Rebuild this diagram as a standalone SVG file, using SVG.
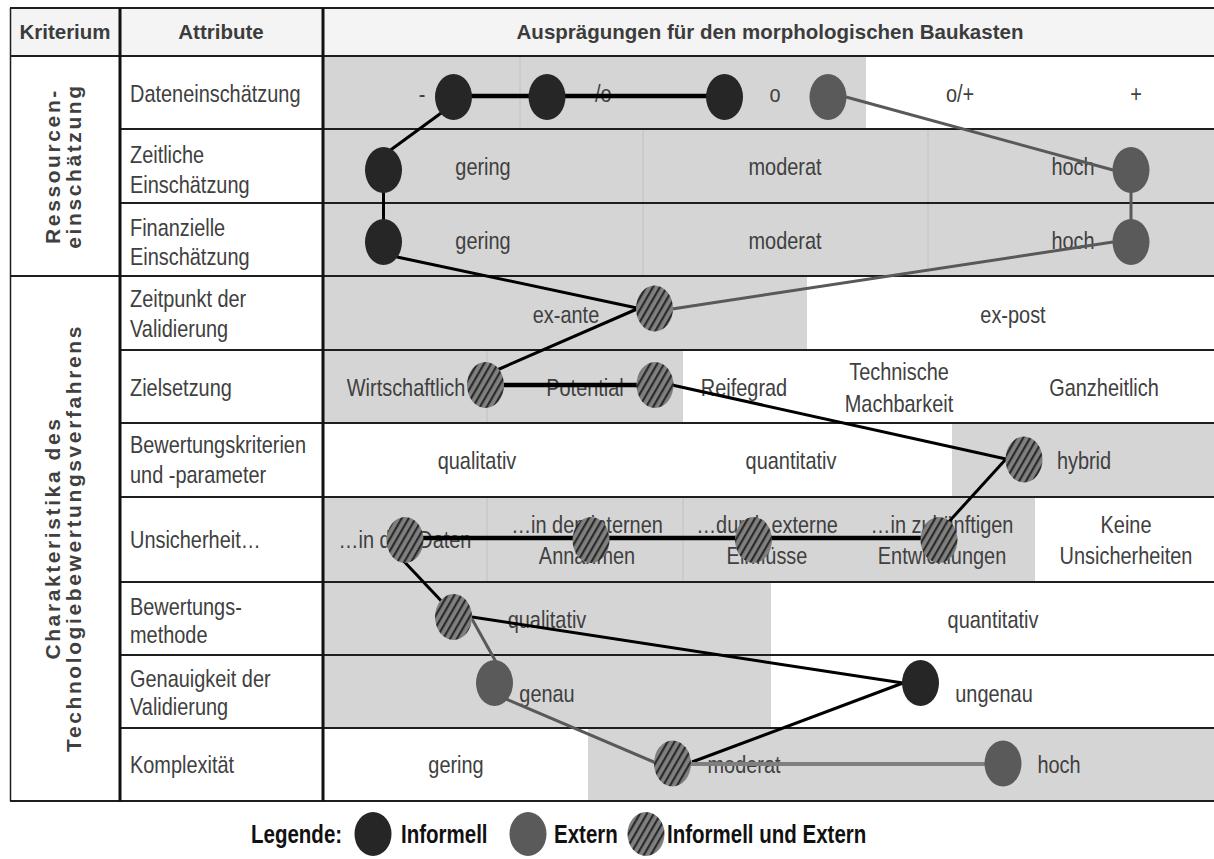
<svg xmlns="http://www.w3.org/2000/svg" width="1214" height="859" viewBox="0 0 1214 859">
<style>
.bg{fill:#ffffff}
.g{fill:#d5d5d5}
.dv{stroke:#c2c2c2;stroke-width:1}
.rl{stroke:#1e1e1e;stroke-width:2;fill:none}
.cl{stroke:#111;stroke-width:3;fill:none}
.h{font-family:"Liberation Sans",Arial,sans-serif;font-weight:bold;font-size:20.5px;fill:#3c3c3c;text-anchor:middle}
.t{font-family:"Liberation Sans",Arial,sans-serif;font-size:24px;fill:#404040;text-anchor:middle}
.a{font-family:"Liberation Sans",Arial,sans-serif;font-size:24px;fill:#404040;text-anchor:start}
.v{font-family:"Liberation Sans",Arial,sans-serif;font-weight:bold;font-size:21px;fill:#404040;text-anchor:middle;letter-spacing:2.6px}
.lg{font-family:"Liberation Sans",Arial,sans-serif;font-weight:bold;font-size:25px;fill:#111;text-anchor:start}
.inf{fill:#262626}
.ext{fill:#5a5a5a}
.both{fill:url(#hatch)}
.cb{stroke:#000;stroke-width:3;fill:none}
.cbt{stroke:#000;stroke-width:4.5;fill:none}
.cg{stroke:#595959;stroke-width:3;fill:none}
.cgl{stroke:#7f7f7f;stroke-width:4;fill:none}
</style>
<defs>
<pattern id="hatch" patternUnits="userSpaceOnUse" width="6" height="6" patternTransform="rotate(30)">
<rect width="6" height="6" fill="#808080"/>
<rect width="2.2" height="6" fill="#2b2b2b"/>
</pattern>
</defs>
<rect class="bg" x="0" y="0" width="1214" height="859"/>
<g id="table">
<rect x="10" y="8" width="1204" height="48" fill="#f4f4f4"/>
<rect class="g" x="323" y="56" width="543" height="73"/>
<rect class="g" x="323" y="129" width="891" height="74"/>
<rect class="g" x="323" y="203" width="891" height="73"/>
<rect class="g" x="323" y="276" width="484" height="74"/>
<rect class="g" x="323" y="350" width="360" height="73"/>
<rect class="g" x="952" y="423" width="262" height="74"/>
<rect class="g" x="323" y="497" width="712" height="85"/>
<rect class="g" x="323" y="582" width="448" height="73"/>
<rect class="g" x="323" y="655" width="448" height="73"/>
<rect class="g" x="588" y="728" width="626" height="73"/>
<line class="dv" x1="520" y1="57" x2="520" y2="128"/>
<line class="dv" x1="643" y1="130" x2="643" y2="275"/>
<line class="dv" x1="928" y1="130" x2="928" y2="275"/>
<line class="dv" x1="487" y1="351" x2="487" y2="422"/>
<line class="dv" x1="487" y1="498" x2="487" y2="581"/>
<line class="dv" x1="683" y1="498" x2="683" y2="581"/>
<path class="rl" d="M10 8H1214M10 56H1214M120 129H1214M120 203H1214M10 276H1214M120 350H1214M120 423H1214M120 497H1214M120 582H1214M120 655H1214M120 728H1214M10 801H1214"/>
<line x1="10.5" y1="8" x2="10.5" y2="801" stroke="#1e1e1e" stroke-width="1.5"/>
<line class="cl" x1="120" y1="8" x2="120" y2="801"/>
<line class="cl" x1="323" y1="8" x2="323" y2="801"/>
<text class="h" x="65" y="39">Kriterium</text>
<text class="h" x="221" y="39">Attribute</text>
<text class="h" x="770" y="39">Ausprägungen für den morphologischen Baukasten</text>
<text class="v" transform="translate(60,166) rotate(-90)">Ressourcen-</text>
<text class="v" transform="translate(81,166) rotate(-90)">einschätzung</text>
<text class="v" transform="translate(60,538) rotate(-90)">Charakteristika des</text>
<text class="v" transform="translate(81,538) rotate(-90)">Technologiebewertungsverfahrens</text>
<g id="attributes">
<text class="a" transform="translate(130,102) scale(.83,1)">Dateneinschätzung</text>
<text class="a" transform="translate(130,163) scale(.83,1)">Zeitliche<tspan x="0" dy="30">Einschätzung</tspan></text>
<text class="a" transform="translate(130,236) scale(.83,1)">Finanzielle<tspan x="0" dy="29">Einschätzung</tspan></text>
<text class="a" transform="translate(130,307) scale(.83,1)">Zeitpunkt der<tspan x="0" dy="30">Validierung</tspan></text>
<text class="a" transform="translate(130,396) scale(.83,1)">Zielsetzung</text>
<text class="a" transform="translate(130,453) scale(.83,1)">Bewertungskriterien<tspan x="0" dy="30">und -parameter</tspan></text>
<text class="a" transform="translate(130,548) scale(.83,1)">Unsicherheit…</text>
<text class="a" transform="translate(130,615) scale(.83,1)">Bewertungs-<tspan x="0" dy="28">methode</tspan></text>
<text class="a" transform="translate(130,687) scale(.83,1)">Genauigkeit der<tspan x="0" dy="28">Validierung</tspan></text>
<text class="a" transform="translate(130,773) scale(.83,1)">Komplexität</text>
</g>
<g id="values">
<text class="t" transform="translate(422,102) scale(.83,1)">-</text>
<text class="t" transform="translate(600,102) scale(.83,1)">-/o</text>
<text class="t" transform="translate(775,102) scale(.83,1)">o</text>
<text class="t" transform="translate(960,102) scale(.83,1)">o/+</text>
<text class="t" transform="translate(1136,102) scale(.83,1)">+</text>
<text class="t" transform="translate(483,175) scale(.83,1)">gering</text>
<text class="t" transform="translate(785,175) scale(.83,1)">moderat</text>
<text class="t" transform="translate(1073,175) scale(.83,1)">hoch</text>
<text class="t" transform="translate(483,249) scale(.83,1)">gering</text>
<text class="t" transform="translate(785,249) scale(.83,1)">moderat</text>
<text class="t" transform="translate(1073,249) scale(.83,1)">hoch</text>
<text class="t" transform="translate(566,323) scale(.83,1)">ex-ante</text>
<text class="t" transform="translate(1013,323) scale(.83,1)">ex-post</text>
<text class="t" transform="translate(406,396) scale(.83,1)">Wirtschaftlich</text>
<text class="t" transform="translate(585,396) scale(.83,1)">Potential</text>
<text class="t" transform="translate(744,396) scale(.83,1)">Reifegrad</text>
<text class="t" transform="translate(899,380) scale(.83,1)">Technische<tspan x="0" dy="32">Machbarkeit</tspan></text>
<text class="t" transform="translate(1104,396) scale(.83,1)">Ganzheitlich</text>
<text class="t" transform="translate(477,469) scale(.83,1)">qualitativ</text>
<text class="t" transform="translate(791,469) scale(.83,1)">quantitativ</text>
<text class="t" transform="translate(1084,469) scale(.83,1)">hybrid</text>
<text class="t" transform="translate(405,548) scale(.83,1)">…in den Daten</text>
<text class="t" transform="translate(587,533) scale(.83,1)">…in den internen<tspan x="0" dy="31">Annahmen</tspan></text>
<text class="t" transform="translate(767,533) scale(.83,1)">…durch externe<tspan x="0" dy="31">Einflüsse</tspan></text>
<text class="t" transform="translate(942,533) scale(.83,1)">…in zukünftigen<tspan x="0" dy="31">Entwicklungen</tspan></text>
<text class="t" transform="translate(1126,533) scale(.83,1)">Keine<tspan x="0" dy="31">Unsicherheiten</tspan></text>
<text class="t" transform="translate(547,628) scale(.83,1)">qualitativ</text>
<text class="t" transform="translate(993,628) scale(.83,1)">quantitativ</text>
<text class="t" transform="translate(547,702) scale(.83,1)">genau</text>
<text class="t" transform="translate(994,702) scale(.83,1)">ungenau</text>
<text class="t" transform="translate(456,773) scale(.83,1)">gering</text>
<text class="t" transform="translate(744,773) scale(.83,1)">moderat</text>
<text class="t" transform="translate(1059,773) scale(.83,1)">hoch</text>
</g>
</g>
<g id="connectors">
<line class="cbt" x1="453" y1="96" x2="724" y2="96"/>
<line class="cb" x1="448" y1="108" x2="381" y2="157"/>
<line class="cg" x1="846" y1="97" x2="1113" y2="170"/>
<line class="cb" x1="383.5" y1="190" x2="383.5" y2="222"/>
<line class="cg" x1="1131" y1="190" x2="1131" y2="222"/>
<line class="cb" x1="397" y1="257" x2="637" y2="308"/>
<line class="cg" x1="1113" y1="242" x2="672" y2="309"/>
<line class="cb" x1="637" y1="309" x2="497" y2="370"/>
<line class="cbt" x1="500" y1="385" x2="640" y2="385"/>
<line class="cb" x1="672" y1="385" x2="1006" y2="459"/>
<line class="cb" x1="1006" y1="459" x2="945" y2="526"/>
<line class="cbt" x1="420" y1="538" x2="925" y2="538"/>
<line class="cb" x1="398" y1="555" x2="446" y2="606"/>
<line class="cb" x1="472" y1="617" x2="903" y2="683"/>
<line class="cg" x1="472" y1="619" x2="496" y2="662"/>
<line class="cg" x1="506" y1="699" x2="656" y2="763"/>
<line class="cb" x1="692" y1="762" x2="903" y2="683"/>
<line class="cgl" x1="690" y1="764" x2="986" y2="764"/>
</g>
<g id="n-daten-minus"><ellipse class="inf" cx="453.5" cy="97" rx="18.5" ry="23"/></g>
<g id="n-daten-minuso"><ellipse class="inf" cx="547" cy="97" rx="18.5" ry="23"/></g>
<g id="n-daten-o"><ellipse class="inf" cx="724.5" cy="97" rx="18.5" ry="23"/></g>
<g id="n-daten-ext"><ellipse class="ext" cx="828" cy="97" rx="18.5" ry="23"/></g>
<g id="n-zeit-gering"><ellipse class="inf" cx="383.5" cy="170" rx="18.5" ry="23"/></g>
<g id="n-zeit-hoch"><ellipse class="ext" cx="1131" cy="170" rx="18.5" ry="23"/></g>
<g id="n-fin-gering"><ellipse class="inf" cx="383.5" cy="242" rx="18.5" ry="23"/></g>
<g id="n-fin-hoch"><ellipse class="ext" cx="1131" cy="242" rx="18.5" ry="23"/></g>
<g id="n-exante"><ellipse class="both" cx="654.5" cy="308.5" rx="18.5" ry="23"/></g>
<g id="n-wirtschaftlich"><ellipse class="both" cx="485.5" cy="385" rx="18.5" ry="23"/></g>
<g id="n-potential"><ellipse class="both" cx="655" cy="385" rx="18.5" ry="23"/></g>
<g id="n-hybrid"><ellipse class="both" cx="1024" cy="459.5" rx="18.5" ry="23"/></g>
<g id="n-u-daten"><ellipse class="both" cx="405" cy="540" rx="18.5" ry="23"/></g>
<g id="n-u-intern"><ellipse class="both" cx="591" cy="540" rx="18.5" ry="23"/></g>
<g id="n-u-extern"><ellipse class="both" cx="753.5" cy="540" rx="18.5" ry="23"/></g>
<g id="n-u-zukunft"><ellipse class="both" cx="939" cy="540" rx="18.5" ry="23"/></g>
<g id="n-methode"><ellipse class="both" cx="453.5" cy="617" rx="18.5" ry="23"/></g>
<g id="n-genau"><ellipse class="ext" cx="494.5" cy="683" rx="18.5" ry="23"/></g>
<g id="n-ungenau"><ellipse class="inf" cx="920.5" cy="683" rx="18.5" ry="23"/></g>
<g id="n-komp-moderat"><ellipse class="both" cx="672.5" cy="763.5" rx="18.5" ry="23"/></g>
<g id="n-komp-hoch"><ellipse class="ext" cx="1003" cy="763.5" rx="18.5" ry="23"/></g>
<g id="legend">
<text class="lg" transform="translate(251,843) scale(.82,1)">Legende:</text>
<ellipse class="inf" cx="373" cy="834" rx="18.5" ry="22"/>
<text class="lg" transform="translate(401,843) scale(.82,1)">Informell</text>
<ellipse class="ext" cx="528" cy="834" rx="18.5" ry="22"/>
<text class="lg" transform="translate(554,843) scale(.82,1)">Extern</text>
<ellipse class="both" cx="646" cy="834" rx="18.5" ry="22"/>
<text class="lg" transform="translate(667,843) scale(.82,1)">Informell und Extern</text>
</g>
</svg>
